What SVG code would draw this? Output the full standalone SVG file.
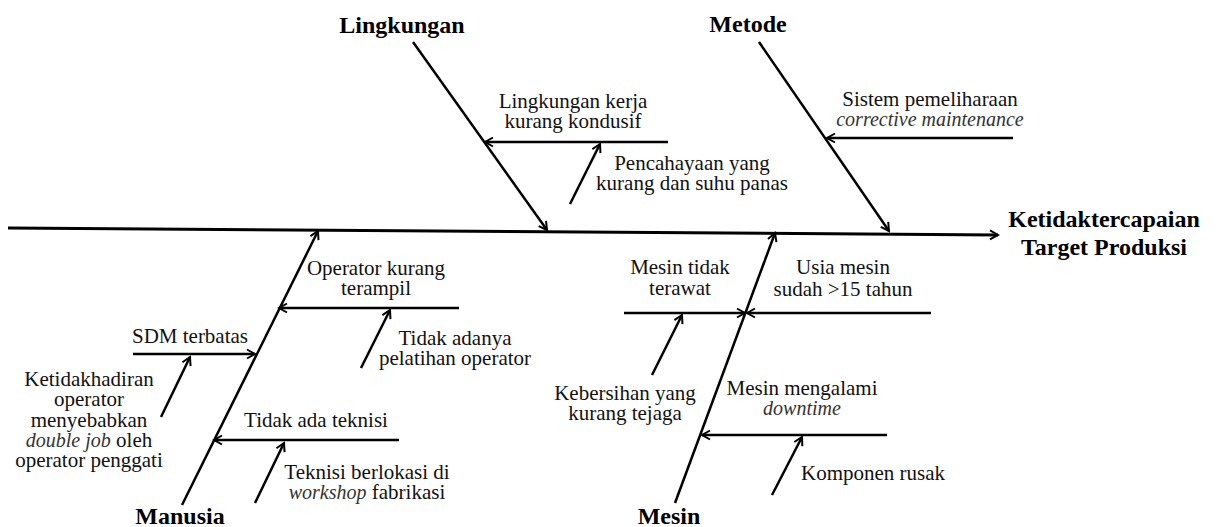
<svg xmlns="http://www.w3.org/2000/svg" width="1220" height="527" viewBox="0 0 1220 527">
<defs>
<marker id="ah" markerUnits="userSpaceOnUse" markerWidth="12" markerHeight="12" refX="10" refY="6" orient="auto">
<path d="M2,1.5 L10,6 L2,10.5" fill="none" stroke="#000" stroke-width="2"/>
</marker>
</defs>
<style>
.t{font-size:21px;fill:#111;text-anchor:middle}
.b{font-size:24px;font-weight:bold;fill:#000;text-anchor:middle}
.i{font-style:italic;fill:#333;font-size:20px}
.c{stroke:#000;stroke-width:2.5;fill:none;marker-end:url(#ah)}
.sp{stroke-width:3}
</style>
<rect width="1220" height="527" fill="#fff"/>
<g id="connectors">
<line class="c sp" x1="8" y1="228" x2="998" y2="235"/>
<line class="c" x1="413" y1="42" x2="547" y2="230"/>
<line class="c" x1="759" y1="42" x2="889" y2="231"/>
<line class="c" x1="182" y1="505" x2="318" y2="231"/>
<line class="c" x1="675" y1="503" x2="775" y2="233"/>
<line class="c" x1="668" y1="142" x2="485" y2="142"/>
<line class="c" x1="570" y1="204" x2="600" y2="144"/>
<line class="c" x1="1013" y1="138" x2="827" y2="138"/>
<line class="c" x1="459" y1="308" x2="279" y2="308"/>
<line class="c" x1="361" y1="368" x2="390" y2="310"/>
<line class="c" x1="133" y1="354" x2="255" y2="354"/>
<line class="c" x1="161" y1="417" x2="190" y2="357"/>
<line class="c" x1="399" y1="440" x2="214" y2="440"/>
<line class="c" x1="255" y1="503" x2="284" y2="443"/>
<line class="c" x1="624" y1="313" x2="745" y2="313"/>
<line class="c" x1="931" y1="313" x2="747" y2="313"/>
<line class="c" x1="652" y1="375" x2="682" y2="315"/>
<line class="c" x1="887" y1="435" x2="702" y2="435"/>
<line class="c" x1="772" y1="495" x2="802" y2="437"/>
</g>
<g font-family="Liberation Serif, Times New Roman, serif">
<g id="effect"><text class="b" x="1104" y="227">Ketidaktercapaian</text><text class="b" x="1104" y="255">Target Produksi</text></g>
<g id="lingkungan"><text class="b" x="402" y="33">Lingkungan</text></g>
<g id="metode"><text class="b" x="748" y="32">Metode</text></g>
<g id="manusia"><text class="b" x="180" y="524">Manusia</text></g>
<g id="mesin"><text class="b" x="669" y="524">Mesin</text></g>
<g id="lingkungan-kerja"><text class="t" x="573" y="108">Lingkungan kerja</text><text class="t" x="573" y="128">kurang kondusif</text></g>
<g id="pencahayaan"><text class="t" x="692" y="170">Pencahayaan yang</text><text class="t" x="692" y="190">kurang dan suhu panas</text></g>
<g id="sistem-pemeliharaan"><text class="t" x="930" y="106">Sistem pemeliharaan</text><text class="t i" x="930" y="126">corrective maintenance</text></g>
<g id="operator-kurang"><text class="t" x="376" y="275">Operator kurang</text><text class="t" x="376" y="295">terampil</text></g>
<g id="tidak-adanya"><text class="t" x="455" y="345">Tidak adanya</text><text class="t" x="455" y="365">pelatihan operator</text></g>
<g id="sdm-terbatas"><text class="t" x="190" y="343">SDM terbatas</text></g>
<g id="ketidakhadiran"><text class="t" x="89" y="386">Ketidakhadiran</text><text class="t" x="89" y="406">operator</text><text class="t" x="89" y="427">menyebabkan</text><text class="t" x="89" y="447"><tspan class="i">double job</tspan> oleh</text><text class="t" x="89" y="467">operator penggati</text></g>
<g id="tidak-ada-teknisi"><text class="t" x="316" y="427">Tidak ada teknisi</text></g>
<g id="teknisi-berlokasi"><text class="t" x="367" y="479">Teknisi berlokasi di</text><text class="t" x="367" y="499"><tspan class="i">workshop</tspan> fabrikasi</text></g>
<g id="mesin-tidak-terawat"><text class="t" x="680" y="274">Mesin tidak</text><text class="t" x="680" y="295">terawat</text></g>
<g id="usia-mesin"><text class="t" x="843" y="274">Usia mesin</text><text class="t" x="843" y="296">sudah &gt;15 tahun</text></g>
<g id="kebersihan"><text class="t" x="625" y="400">Kebersihan yang</text><text class="t" x="625" y="420">kurang tejaga</text></g>
<g id="mesin-downtime"><text class="t" x="802" y="395">Mesin mengalami</text><text class="t i" x="802" y="415">downtime</text></g>
<g id="komponen-rusak"><text class="t" x="873" y="480">Komponen rusak</text></g>
</g>
</svg>
